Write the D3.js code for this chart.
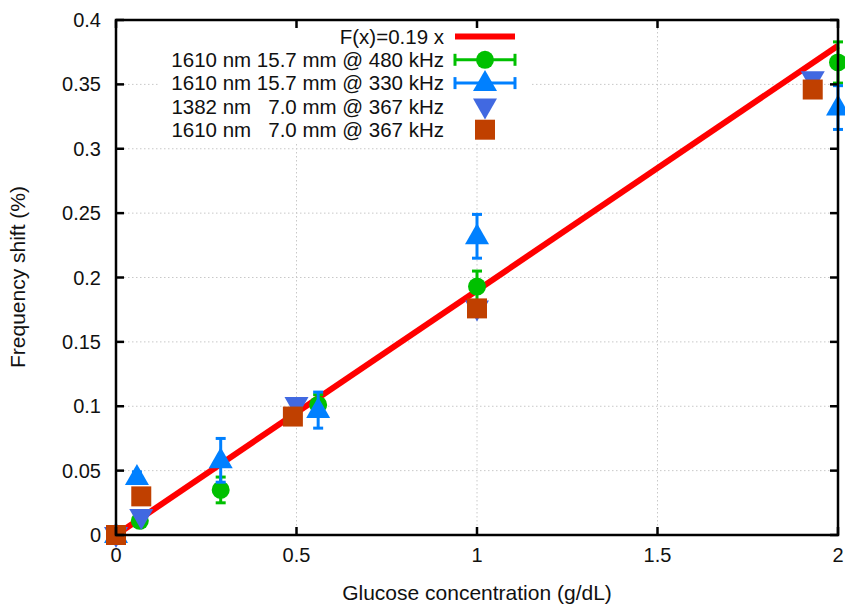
<!DOCTYPE html>
<html>
<head>
<meta charset="utf-8">
<script src="https://cdn.jsdelivr.net/npm/d3@7"></script>
<style>
  body { margin: 0; background: #fff; }
  text { font-family: "Liberation Sans", Arial, sans-serif; white-space: pre; }
</style>
</head>
<body>
<svg id="chart" width="845" height="608"></svg>
<script>
// data
var xTicks = [0, 0.5, 1, 1.5, 2];
var yTicks = [0, 0.05, 0.1, 0.15, 0.2, 0.25, 0.3, 0.35, 0.4];
var fitSlope = 0.19;

var green480 = [
  { x: 0, y: 0, e: 0.003 },
  { x: 0.066, y: 0.011, e: 0.004 },
  { x: 0.29, y: 0.035, e: 0.01 },
  { x: 0.56, y: 0.101, e: 0.008 },
  { x: 1, y: 0.193, e: 0.012 },
  { x: 2, y: 0.367, e: 0.016 }
];
var blue330 = [
  { x: 0, y: 0, e: 0.003 },
  { x: 0.058, y: 0.045, e: 0.004 },
  { x: 0.29, y: 0.058, e: 0.017 },
  { x: 0.56, y: 0.097, e: 0.014 },
  { x: 1, y: 0.232, e: 0.017 },
  { x: 2, y: 0.332, e: 0.017 }
];
var down1382 = [
  { x: 0, y: 0 },
  { x: 0.07, y: 0.014 },
  { x: 0.5, y: 0.101 },
  { x: 1, y: 0.176 },
  { x: 1.93, y: 0.354 }
];
var square1610 = [
  { x: 0, y: 0 },
  { x: 0.07, y: 0.03 },
  { x: 0.49, y: 0.092 },
  { x: 1, y: 0.176 },
  { x: 1.93, y: 0.346 }
];
var legendLabels = [
  'F(x)=0.19 x',
  '1610 nm 15.7 mm @ 480 kHz',
  '1610 nm 15.7 mm @ 330 kHz',
  '1382 nm   7.0 mm @ 367 kHz',
  '1610 nm   7.0 mm @ 367 kHz'
];

var colRed = '#ff0000', colGreen = '#00c000', colBlue = '#0080ff',
    colDown = '#4169e1', colSquare = '#c04000';

var svg = d3.select('#chart');
var pLeft = 116, pRight = 838, pTop = 20, pBottom = 535;

var x = d3.scaleLinear().domain([0, 2]).range([pLeft, pRight]);
var y = d3.scaleLinear().domain([0, 0.4]).range([pBottom, pTop]);

// grid
var grid = svg.append('g').attr('stroke', '#c8c8c8').attr('stroke-width', 1)
  .attr('stroke-dasharray', '1.5,2.5');
grid.selectAll('.gy').data(yTicks.slice(1, -1)).enter().append('line')
  .attr('x1', pLeft).attr('x2', pRight)
  .attr('y1', d => y(d)).attr('y2', d => y(d));
grid.selectAll('.gx').data(xTicks.slice(1, -1)).enter().append('line')
  .attr('y1', pTop).attr('y2', pBottom)
  .attr('x1', d => x(d)).attr('x2', d => x(d));

// fit line
svg.append('path')
  .datum([0, 2])
  .attr('fill', 'none').attr('stroke', colRed).attr('stroke-width', 6)
  .attr('d', d3.line().x(d => x(d)).y(d => y(fitSlope * d)));

// marker shapes
function circlePath(cx, cy) {
  var p = d3.path(); p.arc(cx, cy, 9, 0, 2 * Math.PI); return p.toString();
}
function upPath(cx, cy) {
  var p = d3.path();
  p.moveTo(cx, cy - 13); p.lineTo(cx + 12, cy + 8); p.lineTo(cx - 12, cy + 8); p.closePath();
  return p.toString();
}
function downPath(cx, cy) {
  var p = d3.path();
  p.moveTo(cx, cy + 13); p.lineTo(cx + 12, cy - 8); p.lineTo(cx - 12, cy - 8); p.closePath();
  return p.toString();
}
function squarePath(cx, cy) {
  var p = d3.path(); p.rect(cx - 10, cy - 10, 20, 20); return p.toString();
}

function errorBars(data, color) {
  var g = svg.append('g').attr('stroke', color).attr('stroke-width', 3);
  data.forEach(function(d) {
    var cx = x(d.x);
    g.append('line').attr('x1', cx).attr('x2', cx).attr('y1', y(d.y - d.e)).attr('y2', y(d.y + d.e));
    [d.y - d.e, d.y + d.e].forEach(function(v) {
      g.append('line').attr('x1', cx - 5).attr('x2', cx + 5).attr('y1', y(v)).attr('y2', y(v));
    });
  });
}
function markers(data, shape, color) {
  svg.append('g').selectAll('path').data(data).enter().append('path')
    .attr('d', d => shape(x(d.x), y(d.y)))
    .attr('fill', color);
}

errorBars(green480, colGreen);
markers(green480, circlePath, colGreen);
errorBars(blue330, colBlue);
markers(blue330, upPath, colBlue);
markers(down1382, downPath, colDown);
markers(square1610, squarePath, colSquare);

// legend
var legY = function(i) { return 36.5 + i * 23.3; };
var leg = svg.append('g');
leg.append('rect').attr('x', 160).attr('y', 24).attr('width', 372).attr('height', 118).attr('fill', '#fff');
leg.selectAll('text').data(legendLabels).enter().append('text')
  .attr('x', 444).attr('y', (d, i) => legY(i)).attr('dy', '0.35em')
  .attr('text-anchor', 'end').attr('font-size', 20.5).attr('fill', '#111')
  .text(d => d);
var lx0 = 455, lx1 = 515, lxc = 485;
leg.append('line').attr('x1', lx0).attr('x2', lx1).attr('y1', legY(0)).attr('y2', legY(0))
  .attr('stroke', colRed).attr('stroke-width', 6);
[[colGreen, circlePath], [colBlue, upPath]].forEach(function(s, k) {
  var ly = legY(k + 1);
  var g = leg.append('g').attr('stroke', s[0]).attr('stroke-width', 3);
  g.append('line').attr('x1', lx0).attr('x2', lx1).attr('y1', ly).attr('y2', ly);
  g.append('line').attr('x1', lx0).attr('x2', lx0).attr('y1', ly - 6).attr('y2', ly + 6);
  g.append('line').attr('x1', lx1).attr('x2', lx1).attr('y1', ly - 6).attr('y2', ly + 6);
  leg.append('path').attr('d', s[1](lxc, ly)).attr('fill', s[0]);
});
leg.append('path').attr('d', downPath(lxc, legY(3))).attr('fill', colDown);
leg.append('path').attr('d', squarePath(lxc, legY(4))).attr('fill', colSquare);

// frame and ticks
var frame = svg.append('g').attr('stroke', '#000').attr('stroke-width', 2.5);
frame.append('rect').attr('x', pLeft).attr('y', pTop).attr('width', pRight - pLeft).attr('height', pBottom - pTop)
  .attr('fill', 'none');
var tl = 8;
xTicks.forEach(function(t) {
  frame.append('line').attr('x1', x(t)).attr('x2', x(t)).attr('y1', pBottom).attr('y2', pBottom - tl);
  frame.append('line').attr('x1', x(t)).attr('x2', x(t)).attr('y1', pTop).attr('y2', pTop + tl);
});
yTicks.forEach(function(t) {
  frame.append('line').attr('x1', pLeft).attr('x2', pLeft + tl).attr('y1', y(t)).attr('y2', y(t));
  frame.append('line').attr('x1', pRight).attr('x2', pRight - tl).attr('y1', y(t)).attr('y2', y(t));
});

// tick labels
svg.append('g').selectAll('text').data(xTicks).enter().append('text')
  .attr('x', d => x(d)).attr('y', 562).attr('text-anchor', 'middle')
  .attr('font-size', 20).attr('fill', '#111').text(d => d);
svg.append('g').selectAll('text').data(yTicks).enter().append('text')
  .attr('x', 101).attr('y', d => y(d)).attr('dy', '0.35em').attr('text-anchor', 'end')
  .attr('font-size', 20).attr('fill', '#111').text(d => d);

// axis titles
svg.append('text').attr('x', 477).attr('y', 600).attr('text-anchor', 'middle')
  .attr('font-size', 21).attr('fill', '#111').text('Glucose concentration (g/dL)');
svg.append('text').attr('transform', 'translate(25,277) rotate(-90)').attr('text-anchor', 'middle')
  .attr('font-size', 21).attr('fill', '#111').text('Frequency shift (%)');
</script>
</body>
</html>
